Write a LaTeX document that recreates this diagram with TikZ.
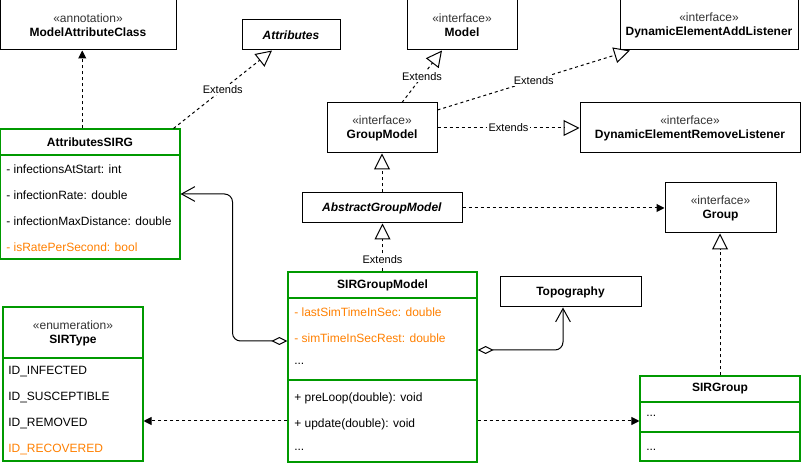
\documentclass[tikz,border=0pt]{standalone}
\usepackage{fontspec}
\setmainfont{Liberation Sans}
\usepackage{xcolor}
\usetikzlibrary{arrows.meta,calc,positioning}
\definecolor{umlgreen}{HTML}{009900}
\definecolor{umlorange}{HTML}{FF8000}
\def\stereo#1{{\mdseries\color{black!80}«#1»}}

\begin{document}
\begin{tikzpicture}
    [x=0.75pt,y=-0.75pt,
    font=\fontsize{9}{10.5}\selectfont,
    box/.style={
      rectangle,
      draw=black,
      line width=0.75pt,
      fill=white,
      align=center,
      inner sep=0pt
    },
    cls/.style={
      rectangle,
      draw=umlgreen,
      line width=0.8pt,
      fill=white,
      inner sep=0pt
    },
    head/.style={
      font=\fontsize{9}{10.5}\selectfont\bfseries,
      align=center,
      inner sep=0pt
    },
    row/.style={
      anchor=west,
      inner sep=0pt
    },
    hot/.style={
      row,
      text=umlorange
    },
    sep/.style={
      draw=umlgreen,
      line width=0.8pt
    },
    extends/.style={
      draw,
      line width=0.75pt,
      dash pattern=on 2.25pt off 2.25pt,
      -{Triangle[open,length=12pt,width=12pt]}
    },
    dep/.style={
      draw,
      line width=0.75pt,
      dash pattern=on 2.25pt off 2.25pt,
      -{Triangle[length=6pt,width=6pt]}
    },
    aggr/.style={
      draw,
      line width=0.75pt,
      rounded corners=6pt,
      {Diamond[open,length=12pt,width=6pt]}-{Straight Barb[length=10pt,width=11pt]}
    },
    lbl/.style={
      fill=white,
      inner sep=1pt,
      font=\fontsize{8.25}{9}\selectfont
    }
  ]
    \useasboundingbox (0,0) rectangle (801,466);
    \draw (88,25) node[box, minimum width=132pt, minimum height=37.5pt] (mac) {\stereo{annotation}\\\textbf{ModelAttributeClass}};
    \draw (291,35) node[box, minimum width=73.5pt, minimum height=22.5pt] (attr) {\textbf{\textit{Attributes}}};
    \draw (462,25) node[box, minimum width=82.5pt, minimum height=37.5pt] (model) {\stereo{interface}\\\textbf{Model}};
    \draw (709,25) node[box, minimum width=133.5pt, minimum height=37.5pt] (deal) {\stereo{interface}\\\textbf{DynamicElementAddListener}};
    \draw (382,128) node[box, minimum width=82.5pt, minimum height=37.5pt] (gmodel) {\stereo{interface}\\\textbf{GroupModel}};
    \draw (690,128) node[box, minimum width=165pt, minimum height=37.5pt] (derl) {\stereo{interface}\\\textbf{DynamicElementRemoveListener}};
    \draw (382,208) node[box, minimum width=120pt, minimum height=22.5pt] (agm) {\textbf{\textit{AbstractGroupModel}}};
    \draw (720.5,208) node[box, minimum width=83.25pt, minimum height=37.5pt] (group) {\stereo{interface}\\\textbf{Group}};
    \draw (570.5,292) node[box, minimum width=105.75pt, minimum height=22.5pt] (topo) {\textbf{Topography}};

    \draw (90.25,194) node[cls, minimum width=134.6pt, minimum height=97.5pt] (asirg) {};
    \path (90,142) node[head] (asirgH) {AttributesSIRG}
          (6,169) node[row] (asirgA) {- infectionsAtStart: int}
          (6,195) node[row] (asirgB) {- infectionRate: double}
          (6,221) node[row] (asirgC) {- infectionMaxDistance: double}
          (6,247) node[hot] (asirgD) {- isRatePerSecond: bool};
    \draw[sep] (asirg.west |- 0,155) -- (asirg.east |- 0,155);

    \draw (382.5,367) node[cls, minimum width=141.75pt, minimum height=142.5pt] (sgm) {};
    \path (382.5,285) node[head] (sgmH) {SIRGroupModel}
          (294,312) node[hot] (sgmA) {- lastSimTimeInSec: double}
          (294,338) node[hot] (sgmB) {- simTimeInSecRest: double}
          (294,364) node[row] (sgmC) {...}
          (294,398) node[row] (sgmD) {+ preLoop(double): void}
          (294,424) node[row] (sgmE) {+ update(double): void}
          (294,450) node[row] (sgmF) {...};
    \draw[sep] (sgm.west |- 0,298) -- (sgm.east |- 0,298);
    \draw[sep] (sgm.west |- 0,380) -- (sgm.east |- 0,380);

    \draw (73,384) node[cls, minimum width=105pt, minimum height=115.5pt] (sirtype) {};
    \path (73,333) node[head] (sirtypeH) {\stereo{enumeration}\\SIRType}
          (8,372) node[row] (sirtypeA) {ID\_INFECTED}
          (8,398) node[row] (sirtypeB) {ID\_SUSCEPTIBLE}
          (8,424) node[row] (sirtypeC) {ID\_REMOVED}
          (8,450) node[hot] (sirtypeD) {ID\_RECOVERED};
    \draw[sep] (sirtype.west |- 0,358) -- (sirtype.east |- 0,358);

    \draw (720,418.5) node[cls, minimum width=120pt, minimum height=63.75pt] (sirgroup) {};
    \path (720,389) node[head] (sirgroupH) {SIRGroup}
          (646,416) node[row] (sirgroupA) {...}
          (646,450) node[row] (sirgroupB) {...};
    \draw[sep] (sirgroup.west |- 0,402) -- (sirgroup.east |- 0,402);
    \draw[sep] (sirgroup.west |- 0,432) -- (sirgroup.east |- 0,432);

    \draw[dep] ([xshift=-6pt]asirg.north) -- ([xshift=-6pt]asirg.north |- mac.south);
    \draw[extends] ([xshift=-5.25pt]asirg.north east) -- node[lbl] (extA) {Extends} ([xshift=-14.25pt]attr.south);
    \draw[extends] ([xshift=15pt]gmodel.north) -- node[lbl] (extB) {Extends} ([xshift=-15pt]model.south);
    \draw[extends] ([yshift=13.5pt]gmodel.east) -- node[lbl] (extC) {Extends} ([xshift=-59.25pt]deal.south);
    \draw[extends] (gmodel.east) -- node[lbl] (extD) {Extends} (derl.west);
    \draw[extends] (agm.north) -- (gmodel.south);
    \draw[extends] (sgm.north) -- node[lbl, pos=0.25] (extE) {Extends} (sgm.north |- agm.south);
    \draw[dep] (agm.east) -- (group.west);
    \draw[extends] (sirgroup.north) -- (sirgroup.north |- group.south);
    \draw[dep] ([yshift=-40.5pt]sgm.east) -- ([yshift=-40.5pt]sgm.east -| sirgroup.west);
    \draw[dep] ([yshift=-40.5pt]sgm.west) -- ([yshift=-40.5pt]sgm.west -| sirtype.east);
    \draw[aggr] ([yshift=19.5pt]sgm.west) -| ([xshift=39pt]asirg.east) -- (asirg.east);
    \draw[aggr] ([yshift=12.75pt]sgm.east) -| ([xshift=-5.625pt]topo.south);
\end{tikzpicture}
\end{document}
